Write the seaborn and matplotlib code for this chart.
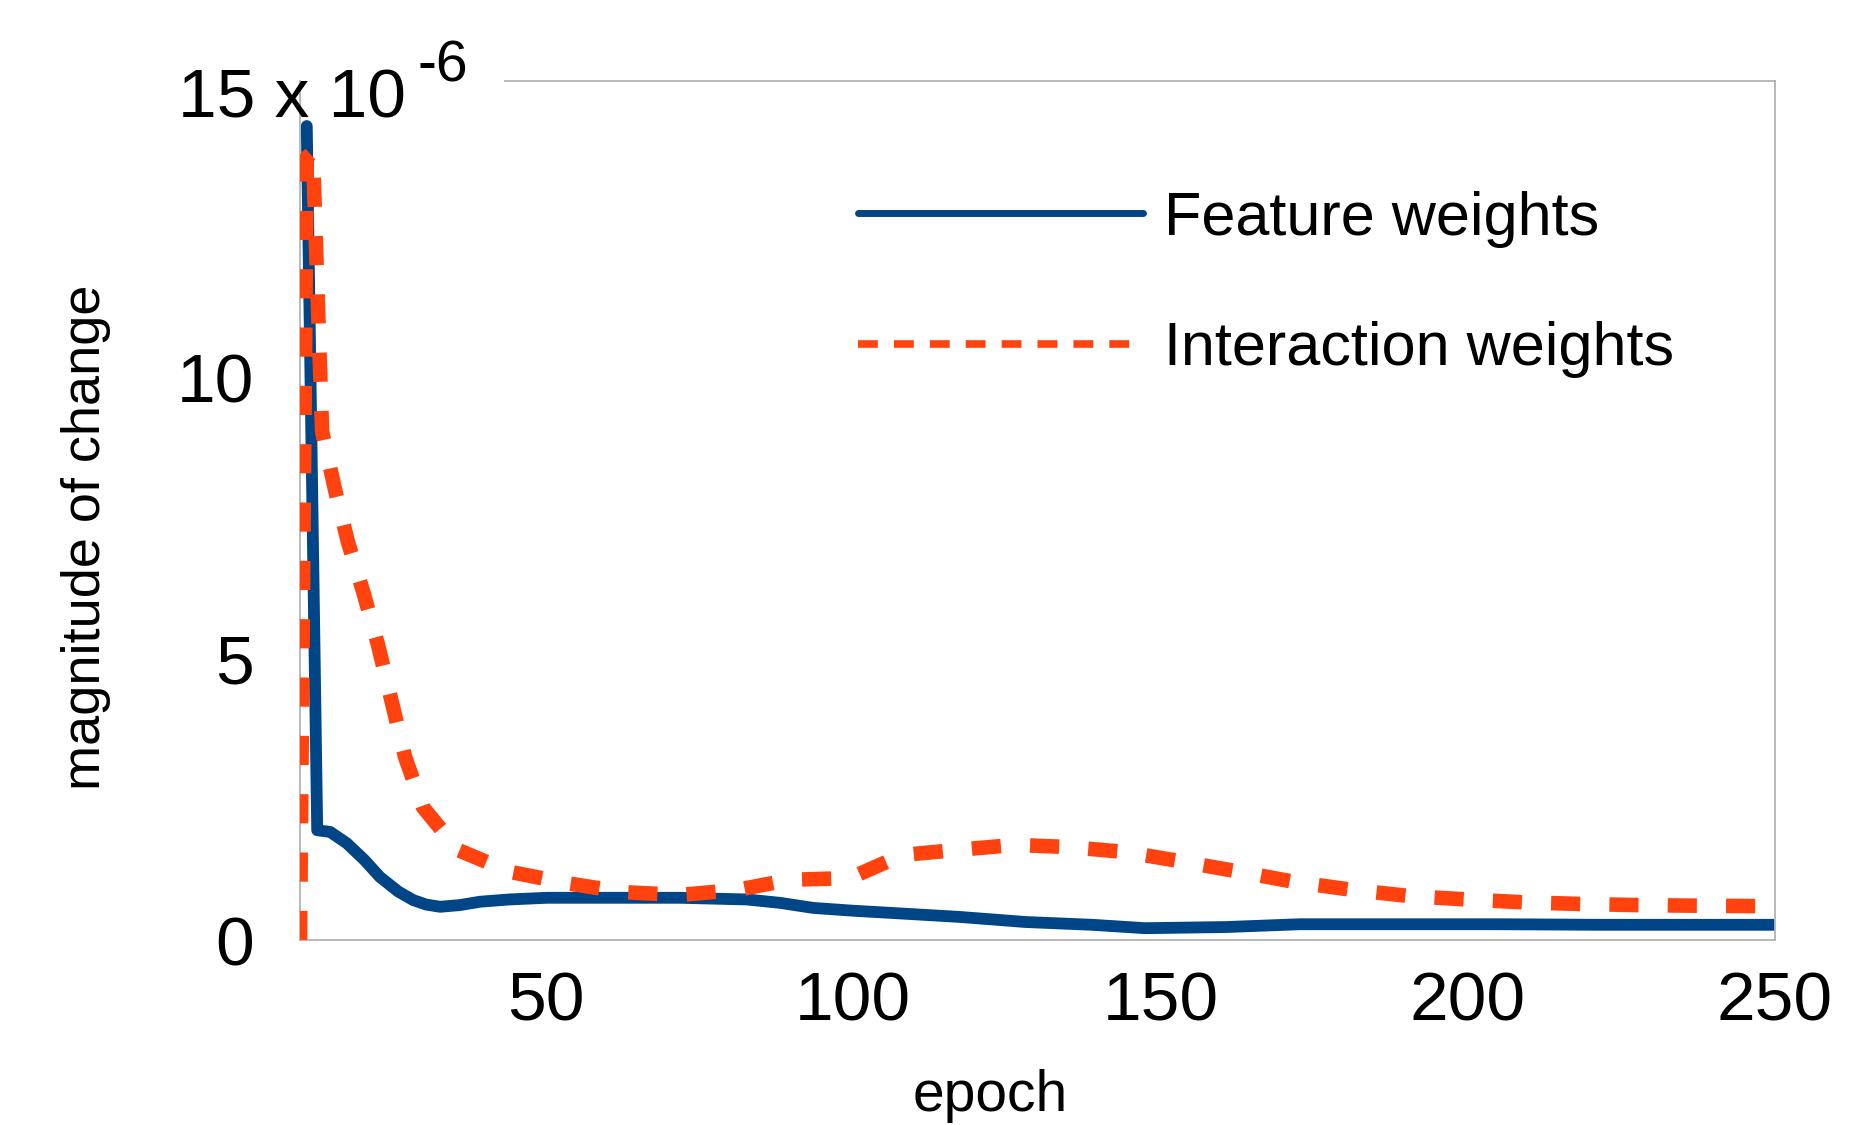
import seaborn as sns
import matplotlib.pyplot as plt
from matplotlib.lines import Line2D
import pandas as pd


## ____data (values in units of 1e-6)
feature_epoch = [11.1, 12.8, 14.9, 17.6, 20.5, 23.0, 26.0, 28.4, 30.5, 32.8, 36.0, 39.3, 44.0,
                 50.2, 60.9, 71.8, 82.7, 88.1, 93.5, 100.0, 106.4, 117.3, 128.0, 138.9,
                 147.5, 160.6, 172.7, 189.0, 205.0, 221.5, 250.0]
feature_vals = [14.46, 1.95, 1.92, 1.72, 1.42, 1.12, 0.86, 0.71, 0.63, 0.59, 0.62, 0.68, 0.72,
                0.75, 0.75, 0.75, 0.72, 0.66, 0.57, 0.52, 0.48, 0.41, 0.32, 0.27,
                0.21, 0.23, 0.28, 0.28, 0.28, 0.27, 0.27]

inter_epoch = [10.0, 11.1, 12.1, 13.6, 15.7, 17.8, 20.3, 22.7, 25.0, 27.1, 30.0, 35.7, 44.2,
               53.4, 62.6, 71.8, 81.1, 89.7, 99.5, 108.0, 116.9, 126.3, 135.3, 144.6,
               153.7, 163.0, 171.9, 181.3, 190.6, 199.9, 209.0, 218.3, 227.7, 237.0, 250.0]
inter_vals = [0.0, 13.9, 14.0, 9.03, 8.0, 7.07, 6.18, 5.24, 4.2, 3.25, 2.36, 1.6, 1.21,
              1.01, 0.85, 0.80, 0.89, 1.07, 1.1, 1.51, 1.6, 1.69, 1.65, 1.56,
              1.39, 1.21, 1.03, 0.89, 0.78, 0.72, 0.67, 0.64, 0.62, 0.61, 0.60]

labels = ["Feature weights", "Interaction weights"]
blue = "#004586"
orange = "#ff420e"
grey = "#b3b3b3"

df_feat = pd.DataFrame({"epoch": feature_epoch, "change": feature_vals})
df_inter = pd.DataFrame({"epoch": inter_epoch, "change": inter_vals})

## ____style
sns.set_theme(style="white")
plt.rcParams["font.family"] = ["Liberation Sans", "DejaVu Sans"]
plt.rcParams["text.color"] = "black"

fig = plt.figure(figsize=(18.63, 11.25), dpi=100)
ax = fig.add_axes([300 / 1863, 1 - 940 / 1125, 1475 / 1863, 859 / 1125])

## ____graph
sns.lineplot(data=df_inter, x="epoch", y="change", ax=ax, color=orange,
             linewidth=10.5, linestyle=(0, (2.0, 2.0)), sort=False)
sns.lineplot(data=df_feat, x="epoch", y="change", ax=ax, color=blue,
             linewidth=8.5, sort=False)
# dashed line on top so the dashes stay visible near the start
ax.lines[0].set_zorder(3)

ax.set_xlim(10, 250)
ax.set_ylim(0, 15.26)
ax.set_xticks([50, 100, 150, 200, 250])
ax.set_yticks([0, 5, 10])
ax.tick_params(axis="x", length=0, pad=22, labelsize=50, colors="black")
ax.tick_params(axis="y", length=20, width=1.3, pad=13, labelsize=50,
               color=grey, labelcolor="black", direction="out")
ax.set_xlabel("")
ax.set_ylabel("")

for side in ["left", "right", "top", "bottom"]:
    ax.spines[side].set_visible(True)
    ax.spines[side].set_color(grey)
    ax.spines[side].set_linewidth(1.3)
ax.spines["top"].set_bounds(43.4, 250)

## ____text
fig.text(178 / 1863, 1 - 118 / 1125, "15 x 10", fontsize=50, ha="left", va="baseline")
fig.text(418 / 1863, 1 - 82 / 1125, "-6", fontsize=41, ha="left", va="baseline")
fig.text(86 / 1863, 1 - 537 / 1125, "magnitude of change", fontsize=39,
         rotation=90, ha="center", va="center")
fig.text(990 / 1863, 14 / 1125, "epoch", fontsize=41, ha="center", va="baseline")

## ____legend
handles = [Line2D([], [], color=blue, linewidth=5),
           Line2D([], [], color=orange, linewidth=5.5, linestyle=(0, (2.6, 2.1)))]
leg = ax.legend(handles, labels, loc="center left",
                bbox_to_anchor=(858 / 1863, 1 - 284.5 / 1125), bbox_transform=fig.transFigure,
                frameon=False, fontsize=44, handlelength=4.67, handletextpad=0.34,
                labelspacing=1.2, borderpad=0, borderaxespad=0)
for t in leg.get_texts():
    t.set_color("black")

plt.savefig("out.png", dpi=100)
